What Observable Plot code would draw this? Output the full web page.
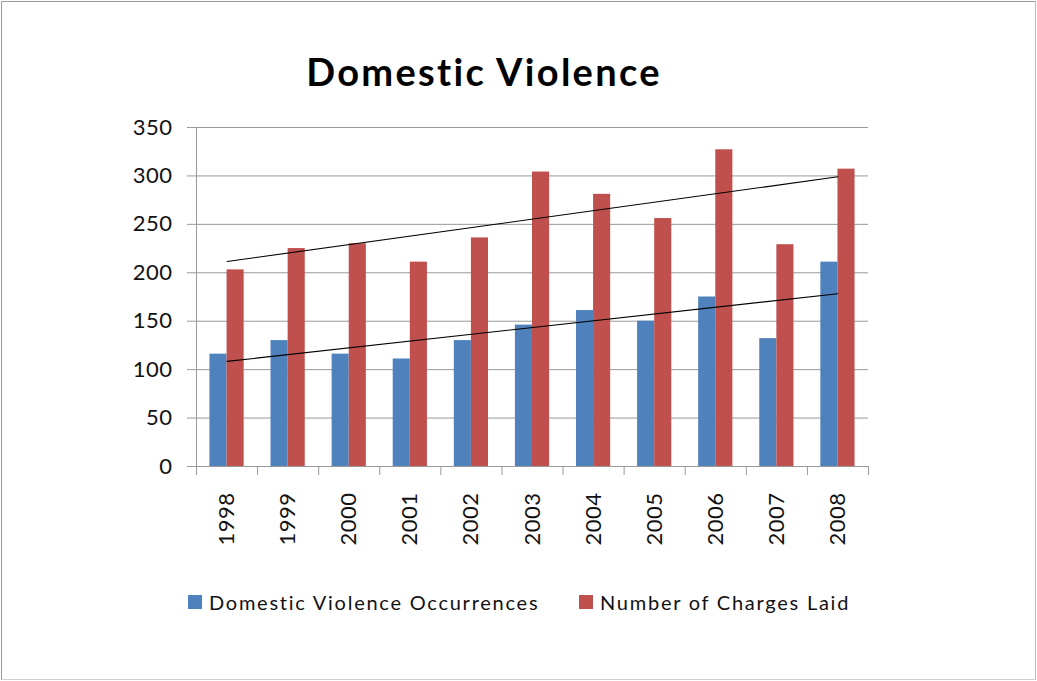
<!DOCTYPE html>
<html>
<head>
<meta charset="utf-8">
<script src="https://cdn.jsdelivr.net/npm/d3@7"></script>
<script src="https://cdn.jsdelivr.net/npm/@observablehq/plot@0.6"></script>
<style>
  html, body { margin: 0; padding: 0; background: #fff; }
  #frame { position: absolute; left: 1px; top: 1px; width: 1033px; height: 677px; border: 1px solid #9a9a9a; border-bottom-color: #cfcfcf; border-right-color: #bdbdbd; }
  #title { position: absolute; left: 0; top: 52px; width: 968px; text-align: center; font: bold 38px Lato, "Open Sans", sans-serif; line-height: 38px; letter-spacing: 2.3px; color: #000; }
  #chart { position: absolute; left: 0; top: 100px; }
  #legend { position: absolute; left: 0; top: 590px; width: 1037px; height: 24px; font: 20px Lato, "Open Sans", sans-serif; letter-spacing: 1.75px; color: #111; }
  .item { position: absolute; top: 0; display: flex; align-items: center; height: 24px; white-space: nowrap; }
  .sw { width: 14px; height: 14px; margin-right: 7px; }
</style>
</head>
<body>
<div id="frame"></div>
<div id="title">Domestic Violence</div>
<div id="chart"></div>
<div id="legend"></div>
<script>
const years = [1998, 1999, 2000, 2001, 2002, 2003, 2004, 2005, 2006, 2007, 2008];
const occurrences = [116, 130, 116, 111, 130, 146, 161, 150, 175, 132, 211];
const charges = [203, 225, 230, 211, 236, 304, 281, 256, 327, 229, 307];
const seriesNames = ["Domestic Violence Occurrences", "Number of Charges Laid"];
const yTicks = [0, 50, 100, 150, 200, 250, 300, 350];

const colors = ["#4F81BD", "#C0504D"];
const half = 0.28;

const occ = years.map((year, i) => ({year, value: occurrences[i]}));
const chg = years.map((year, i) => ({year, value: charges[i]}));
const boundaries = [...years.map(y => y - 0.5), years[years.length - 1] + 0.5];

const font = 'Lato, "Open Sans", sans-serif';

const chart = Plot.plot({
  width: 1037,
  height: 460,
  marginTop: 27,
  marginBottom: 94,
  marginLeft: 196,
  marginRight: 169,
  style: {fontFamily: font, fontSize: "22px", color: "#000", background: "transparent", letterSpacing: "0.5px"},
  x: {domain: [boundaries[0], boundaries[boundaries.length - 1]]},
  y: {domain: [0, 350]},
  marks: [
    Plot.gridY(yTicks, {stroke: "#999", strokeOpacity: 1, strokeWidth: 1}),
    Plot.rectY(occ, {x1: d => d.year - half, x2: d => d.year, y: "value", fill: colors[0]}),
    Plot.rectY(chg, {x1: d => d.year, x2: d => d.year + half, y: "value", fill: colors[1]}),
    Plot.linearRegressionY(occ, {x: "year", y: "value", stroke: "#000", strokeWidth: 1.1, ci: 0}),
    Plot.linearRegressionY(chg, {x: "year", y: "value", stroke: "#000", strokeWidth: 1.1, ci: 0}),
    Plot.ruleX([boundaries[0]], {y1: 0, y2: 350, stroke: "#999"}),
    Plot.ruleY([0], {stroke: "#999"}),
    Plot.axisY(yTicks, {tickSize: 9, tickPadding: 15, stroke: "#999", fill: "#111", label: null, fontSize: 22}),
    Plot.axisX(boundaries, {tickSize: 9, tickFormat: () => "", stroke: "#999", label: null}),
    Plot.axisX(years, {tickSize: 0, tickPadding: 26, tickRotate: -90, tickFormat: d => String(d), fill: "#111", label: null, fontSize: 22})
  ]
});
document.getElementById("chart").appendChild(chart);

const legend = document.getElementById("legend");
const lefts = [188, 579];
seriesNames.forEach((name, i) => {
  const item = document.createElement("div");
  item.className = "item";
  item.style.left = lefts[i] + "px";
  const sw = document.createElement("div");
  sw.className = "sw";
  sw.style.background = colors[i];
  const label = document.createElement("span");
  label.textContent = name;
  item.appendChild(sw);
  item.appendChild(label);
  legend.appendChild(item);
});
</script>
</body>
</html>
